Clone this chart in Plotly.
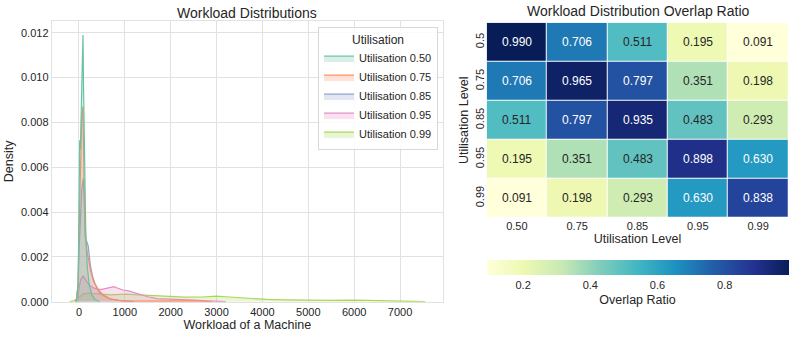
import plotly.graph_objects as go

# ---------------- data ----------------
series_names = ["Utilisation 0.50", "Utilisation 0.75", "Utilisation 0.85",
                "Utilisation 0.95", "Utilisation 0.99"]

x_050 = [-60, -20, 0, 15, 30, 50, 70, 87, 100, 120, 150, 180, 220, 280, 350, 450]
d_050 = [0, 0.0008, 0.004, 0.0072, 0.0068, 0.009, 0.0112, 0.0119, 0.0095, 0.006,
         0.0028, 0.0016, 0.0008, 0.0003, 0.0001, 0]

x_075 = [-60, -20, 0, 30, 60, 85, 110, 130, 150, 180, 250, 320, 400, 500, 650, 850,
         1100, 1500, 2000, 2500, 2900]
d_075 = [0, 0.0008, 0.003, 0.0065, 0.0082, 0.0087, 0.005, 0.0029, 0.0028, 0.0022,
         0.0014, 0.0009, 0.0006, 0.00035, 0.00015, 0.00006, 0.00003, 0.00003,
         0.00005, 0.00004, 0]

x_085 = [-60, -20, 0, 30, 60, 95, 120, 150, 200, 250, 300, 350, 450, 550, 700, 900, 1200]
d_085 = [0, 0.0006, 0.0022, 0.004, 0.005, 0.0055, 0.004, 0.0028, 0.0025, 0.0016,
         0.0011, 0.0008, 0.0004, 0.00025, 0.00012, 0.00005, 0]

x_095 = [-80, -30, 0, 40, 90, 150, 220, 310, 400, 500, 600, 700, 760, 850, 960, 1100,
         1220, 1350, 1500, 1700, 2000, 2400, 2800, 3200]
d_095 = [0, 0.0002, 0.0006, 0.001, 0.00114, 0.00095, 0.00075, 0.00062, 0.00056,
         0.00055, 0.0006, 0.00066, 0.00067, 0.0006, 0.00052, 0.00047, 0.0004, 0.0003,
         0.00022, 0.00014, 0.0001, 0.00008, 0.00004, 0]

x_099 = [-207, -100, 0, 100, 200, 300, 500, 700, 900, 1050, 1300, 1600, 1900, 2300,
         2700, 3000, 3200, 3500, 3800, 4100, 4500, 5000, 5500, 6000, 6500, 7000, 7300, 7549]
d_099 = [0, 0.00005, 0.0002, 0.00035, 0.00038, 0.00036, 0.00032, 0.0003, 0.00033,
         0.00034, 0.0003, 0.00026, 0.00023, 0.0002, 0.00021, 0.00025, 0.00022, 0.00018,
         0.00013, 0.0001, 0.00008, 0.00006, 0.00006, 0.00007, 0.00005, 0.00003,
         0.00002, 0]

x_ticks = [0, 1000, 2000, 3000, 4000, 5000, 6000, 7000]
y_ticks = [0.0, 0.002, 0.004, 0.006, 0.008, 0.010, 0.012]

levels_x = ["0.50", "0.75", "0.85", "0.95", "0.99"]
levels_y = ["0.5", "0.75", "0.85", "0.95", "0.99"]
overlap = [
    [0.990, 0.706, 0.511, 0.195, 0.091],
    [0.706, 0.965, 0.797, 0.351, 0.198],
    [0.511, 0.797, 0.935, 0.483, 0.293],
    [0.195, 0.351, 0.483, 0.898, 0.630],
    [0.091, 0.198, 0.293, 0.630, 0.838],
]
cbar_ticks = [0.2, 0.4, 0.6, 0.8]

# ---------------- style ----------------
colors = ["#66c2a5", "#fc8d62", "#8da0cb", "#e78ac3", "#a6d854"]
fills = ["rgba(102,194,165,0.25)", "rgba(252,141,98,0.25)", "rgba(141,160,203,0.25)",
         "rgba(231,138,195,0.25)", "rgba(166,216,84,0.25)"]
ylgnbu = [[0.0, "#ffffd9"], [0.125, "#edf8b1"], [0.25, "#c7e9b4"], [0.375, "#7fcdbb"],
          [0.5, "#41b6c4"], [0.625, "#1d91c0"], [0.75, "#225ea8"], [0.875, "#253494"],
          [1.0, "#081d58"]]
FONT = "Liberation Sans, Arial, sans-serif"
TXT = "#262626"
GRID = "#e2e2e2"
W, H = 793, 337

xs = [x_050, x_075, x_085, x_095, x_099]
ds = [d_050, d_075, d_085, d_095, d_099]

fig = go.Figure()

# draw in reverse so 0.50 is on top
for i in reversed(range(5)):
    fig.add_trace(go.Scatter(
        x=xs[i], y=ds[i], mode="lines", name=series_names[i],
        line=dict(color=colors[i], width=1.2),
        fill="tozeroy", fillcolor=fills[i],
        showlegend=False, hoverinfo="skip", xaxis="x", yaxis="y",
    ))

# legend entries with patch-like symbols
for i in range(5):
    fig.add_trace(go.Scatter(
        x=[None], y=[None], mode="lines", name=series_names[i],
        line=dict(color=colors[i], width=1.2),
        fill="toself", fillcolor=fills[i],
        showlegend=True, legendrank=i + 1, xaxis="x", yaxis="y",
    ))

fig.add_trace(go.Heatmap(
    z=overlap, x=list(range(5)), y=list(range(5)),
    colorscale=ylgnbu, zmin=0.091, zmax=0.990,
    xgap=1, ygap=1, xaxis="x2", yaxis="y2", showlegend=False,
    hoverinfo="skip",
    colorbar=dict(
        orientation="h", x=(486.7 + 788.3) / 2 / W, xanchor="center",
        len=(788.3 - 486.7) / W, lenmode="fraction",
        y=(H - 260) / H, yanchor="top", thickness=15,
        outlinewidth=0, xpad=0, ypad=0,
        tickvals=cbar_ticks, ticktext=[f"{t:.1f}" for t in cbar_ticks],
        ticks="", tickfont=dict(size=11, color=TXT, family=FONT),
        title=dict(text="Overlap Ratio", side="bottom",
                   font=dict(size=12.5, color=TXT, family=FONT)),
    ),
))

annotations = []
for i in range(5):
    for j in range(5):
        v = overlap[i][j]
        annotations.append(dict(
            x=j, y=i, xref="x2", yref="y2", text=f"{v:.3f}", showarrow=False,
            font=dict(size=12, family=FONT, color="white" if v > 0.6 else TXT),
        ))

# titles
annotations.append(dict(text="Workload Distributions", x=(51.7 + 443) / 2 / W, y=(H - 13) / H,
                        xref="paper", yref="paper", showarrow=False,
                        xanchor="center", yanchor="middle",
                        font=dict(size=14, color=TXT, family=FONT)))
annotations.append(dict(text="Workload Distribution Overlap Ratio", x=(486.7 + 788.3) / 2 / W,
                        y=(H - 11) / H, xref="paper", yref="paper", showarrow=False,
                        xanchor="center", yanchor="middle",
                        font=dict(size=14, color=TXT, family=FONT)))

fig.update_layout(
    width=W, height=H,
    margin=dict(l=0, r=0, t=0, b=0),
    paper_bgcolor="white", plot_bgcolor="white",
    font=dict(family=FONT, color=TXT, size=11),
    annotations=annotations,
    xaxis=dict(
        domain=[51.7 / W, 443 / W], range=[-595, 7937],
        tickvals=x_ticks, ticktext=[str(t) for t in x_ticks],
        showgrid=True, gridcolor=GRID, gridwidth=1, zeroline=False,
        showline=True, mirror=True, linecolor=GRID, linewidth=1,
        ticks="", tickfont=dict(size=11, color=TXT),
        title=dict(text="Workload of a Machine", font=dict(size=12.5, color=TXT), standoff=2),
        automargin=False,
    ),
    yaxis=dict(
        domain=[(H - 301.7) / H, (H - 21) / H], range=[0, 0.01252],
        tickvals=y_ticks, ticktext=[f"{t:.3f}" for t in y_ticks],
        showgrid=True, gridcolor=GRID, gridwidth=1, zeroline=False,
        showline=True, mirror=True, linecolor=GRID, linewidth=1,
        ticks="", tickfont=dict(size=11, color=TXT),
        title=dict(text="Density", font=dict(size=12.5, color=TXT), standoff=4),
        automargin=False,
    ),
    xaxis2=dict(
        domain=[486.7 / W, 788.3 / W], range=[-0.5, 4.5],
        tickvals=list(range(5)), ticktext=levels_x,
        showgrid=False, zeroline=False, showline=False, ticks="",
        tickfont=dict(size=11, color=TXT),
        title=dict(text="Utilisation Level", font=dict(size=12.5, color=TXT), standoff=2),
        anchor="y2", automargin=False,
    ),
    yaxis2=dict(
        domain=[(H - 217.7) / H, (H - 22.7) / H], range=[4.5, -0.5],
        tickvals=list(range(5)), ticktext=levels_y, tickangle=-90,
        showgrid=False, zeroline=False, showline=False, ticks="",
        tickfont=dict(size=11, color=TXT),
        title=dict(text="Utilisation Level", font=dict(size=12.5, color=TXT), standoff=2),
        anchor="x2", automargin=False,
    ),
    legend=dict(
        x=438 / W, xanchor="right", y=(H - 27) / H, yanchor="top",
        bgcolor="rgba(255,255,255,0.85)", bordercolor="#d8d8d8", borderwidth=1,
        font=dict(size=11, color=TXT, family=FONT),
        title=dict(text="Utilisation", side="top center", font=dict(size=12, color=TXT)),
        tracegroupgap=0, itemwidth=30,
    ),
)

fig.write_html("out.html",
               config={"displayModeBar": False},
               post_script="document.body.style.margin='0';document.body.style.overflow='hidden';")
